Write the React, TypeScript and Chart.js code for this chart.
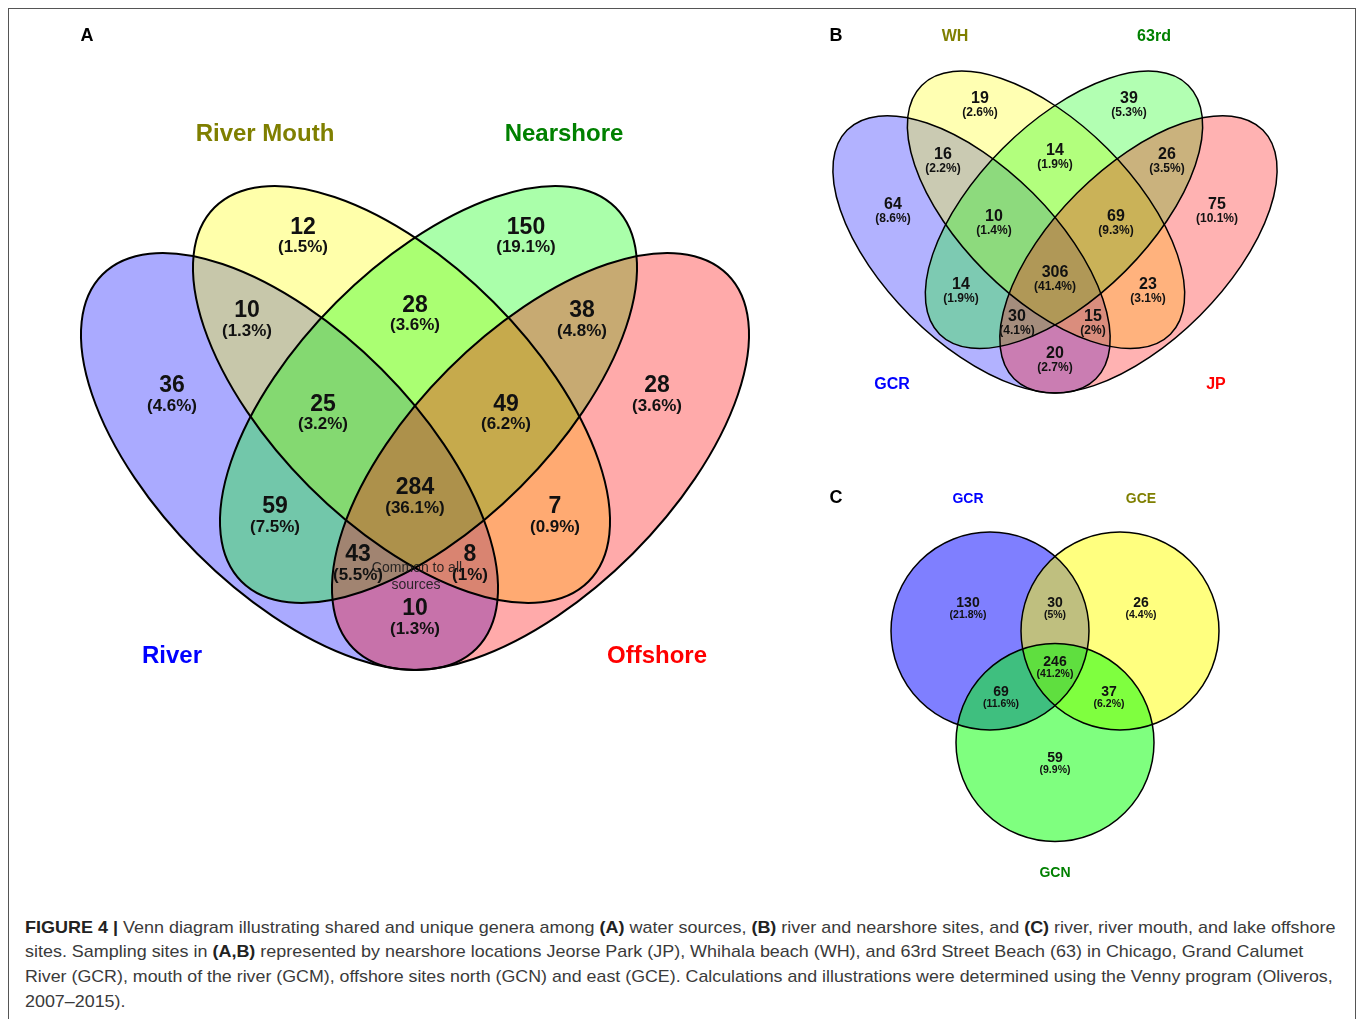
import React, { useEffect, useLayoutEffect, useRef } from "react";
import { Chart, registerables } from "chart.js";

Chart.register(...registerables);

// ---------------- DATA ----------------
// Panel A: water sources
const SETS_A = ["River", "River Mouth", "Nearshore", "Offshore"];
const COUNTS_A = [12, 150, 10, 28, 38, 36, 25, 49, 28, 59, 284, 7, 43, 8, 10];
const PCTS_A = [1.5, 19.1, 1.3, 3.6, 4.8, 4.6, 3.2, 6.2, 3.6, 7.5, 36.1, 0.9, 5.5, 1, 1.3];

// Panel B: river and nearshore sites
const SETS_B = ["GCR", "WH", "63rd", "JP"];
const COUNTS_B = [19, 39, 16, 14, 26, 64, 10, 69, 75, 14, 306, 23, 30, 15, 20];
const PCTS_B = [2.6, 5.3, 2.2, 1.9, 3.5, 8.6, 1.4, 9.3, 10.1, 1.9, 41.4, 3.1, 4.1, 2, 2.7];

// Panel C: river, river mouth, lake offshore
const SETS_C = ["GCR", "GCE", "GCN"];
const COUNTS_C = [130, 30, 26, 246, 69, 37, 59];
const PCTS_C = [21.8, 5, 4.4, 41.2, 11.6, 6.2, 9.9];

const PANEL_LETTERS = ["A", "B", "C"];
const COMMON_NOTE = ["Common to all", "sources"];

// ---------------- LAYOUT (page pixel coordinates) ----------------
const FIG = { left: 9, top: 9, width: 1346, height: 896 };
const FONT = '"Liberation Sans", Arial, Helvetica, sans-serif';
const TEXT_DY = 1.5;

// 4-set ellipse template relative to the bottom meeting point
const TEMPLATE4 = [
  { dx: -125.5, dy: -208.5, rot: Math.PI / 4 },
  { dx: -13.5, dy: -275.5, rot: Math.PI / 4 },
  { dx: 13.5, dy: -275.5, rot: -Math.PI / 4 },
  { dx: 125.5, dy: -208.5, rot: -Math.PI / 4 },
];
const TEMPLATE_RX = 264.5;
const TEMPLATE_RY = 130.4;
const RGB4 = ["0,0,255", "255,255,0", "0,255,0", "255,0,0"];
const RGB3 = ["0,0,255", "255,255,0", "0,255,0"];

const PANEL_A_GEOM = { ox: 415, oy: 670, scale: 1, alpha: 1 / 3, lineWidth: 2 };
const PANEL_B_GEOM = { ox: 1055, oy: 393, scale: 0.665, alpha: 0.3, lineWidth: 1.5 };
const CIRCLES_C = [
  { cx: 990, cy: 631, r: 99 },
  { cx: 1120, cy: 631, r: 99 },
  { cx: 1055, cy: 742.5, r: 99 },
];
const PANEL_C_STYLE = { alpha: 0.5, lineWidth: 1.5 };

const POS_A = [
  [303, 236], [526, 236], [247, 319.5], [415, 314], [582, 319.5],
  [172, 394.5], [323, 413], [506, 413], [657, 394.5],
  [275, 515.5], [415, 496.5], [555, 515.5],
  [358, 563.5], [470, 563.5], [415, 617.5],
];
const POS_B = [
  [980, 104], [1129, 104], [943, 160], [1055, 156], [1167, 160],
  [893, 210], [994, 222], [1116, 222], [1217, 210],
  [961, 290.5], [1055, 278], [1148, 290.5],
  [1017, 322.5], [1093, 322.5], [1055, 359.5],
];
const POS_C = [
  [968, 608], [1055, 608], [1141, 608], [1055, 666.5],
  [1001, 696.5], [1109, 696.5], [1055, 763],
];

const NAME_POS_A = [[172, 655], [265, 133], [564, 133], [657, 655]];
const NAME_POS_B = [[892, 383], [955, 35], [1154, 35], [1216, 383]];
const NAME_POS_C = [[968, 498], [1141, 498], [1055, 872]];
const NAME_COLORS_4 = ["#0000ff", "#7f7f00", "#008000", "#ff0000"];
const NAME_COLORS_3 = ["#0000ff", "#7f7f00", "#008000"];
const LETTER_POS = [[87, 35], [836, 35], [836, 497]];
const NOTE_POS = [[417, 567], [416, 584]];

// ---------------- CAPTION ----------------
const CAPTION: [string, boolean][][] = [
  [
    ["FIGURE 4 |", true],
    [" Venn diagram illustrating shared and unique genera among ", false],
    ["(A)", true],
    [" water sources, ", false],
    ["(B)", true],
    [" river and nearshore sites, and ", false],
    ["(C)", true],
    [" river, river mouth, and lake offshore", false],
  ],
  [
    ["sites. Sampling sites in ", false],
    ["(A,B)", true],
    [" represented by nearshore locations Jeorse Park (JP), Whihala beach (WH), and 63rd Street Beach (63) in Chicago, Grand Calumet", false],
  ],
  [["River (GCR), mouth of the river (GCM), offshore sites north (GCN) and east (GCE). Calculations and illustrations were determined using the Venny program (Oliveros,", false]],
  [["2007–2015).", false]],
];
const CAPTION_WIDTHS = [1310, 1278, 1308, 100];

// ---------------- PLUGIN ----------------
const toXY = (arr: number[][]) => arr.map(([x, y]) => ({ x, y }));

const vennPlugin = {
  id: "venn",
  beforeDatasetsDraw(chart: any) {
    const { ctx, scales } = chart;
    const xs = scales.x;
    const ys = scales.y;
    const len = (d: number) => Math.abs(xs.getPixelForValue(FIG.left + d) - xs.getPixelForValue(FIG.left));
    ctx.save();
    const drawFour = (g: any) => {
      const shapes = TEMPLATE4.map((t) => ({
        x: xs.getPixelForValue(g.ox + t.dx * g.scale),
        y: ys.getPixelForValue(g.oy + t.dy * g.scale),
        rx: len(TEMPLATE_RX * g.scale),
        ry: len(TEMPLATE_RY * g.scale),
        rot: t.rot,
      }));
      shapes.forEach((s, i) => {
        ctx.beginPath();
        ctx.ellipse(s.x, s.y, s.rx, s.ry, s.rot, 0, Math.PI * 2);
        ctx.fillStyle = `rgba(${RGB4[i]},${g.alpha})`;
        ctx.fill();
      });
      ctx.strokeStyle = "#000";
      ctx.lineWidth = g.lineWidth;
      shapes.forEach((s) => {
        ctx.beginPath();
        ctx.ellipse(s.x, s.y, s.rx, s.ry, s.rot, 0, Math.PI * 2);
        ctx.stroke();
      });
    };
    drawFour(PANEL_A_GEOM);
    drawFour(PANEL_B_GEOM);
    const circ = CIRCLES_C.map((c) => ({
      x: xs.getPixelForValue(c.cx),
      y: ys.getPixelForValue(c.cy),
      r: len(c.r),
    }));
    circ.forEach((c, i) => {
      ctx.beginPath();
      ctx.arc(c.x, c.y, c.r, 0, Math.PI * 2);
      ctx.fillStyle = `rgba(${RGB3[i]},${PANEL_C_STYLE.alpha})`;
      ctx.fill();
    });
    ctx.strokeStyle = "#000";
    ctx.lineWidth = PANEL_C_STYLE.lineWidth;
    circ.forEach((c) => {
      ctx.beginPath();
      ctx.arc(c.x, c.y, c.r, 0, Math.PI * 2);
      ctx.stroke();
    });
    ctx.restore();
  },
  afterDatasetsDraw(chart: any) {
    const ctx = chart.ctx;
    ctx.save();
    ctx.textAlign = "center";
    ctx.textBaseline = "middle";
    chart.data.datasets.forEach((ds: any, i: number) => {
      const meta = chart.getDatasetMeta(i);
      meta.data.forEach((pt: any, j: number) => {
        const x = pt.x;
        const y = pt.y + TEXT_DY;
        if (ds.kind === "region") {
          ctx.fillStyle = "#111";
          ctx.font = `bold ${ds.countSize}px ${FONT}`;
          ctx.fillText(String(ds.counts[j]), x, y - ds.gap);
          ctx.font = `bold ${ds.pctSize}px ${FONT}`;
          ctx.fillText(`(${ds.pcts[j]}%)`, x, y + ds.gap);
        } else if (ds.kind === "name") {
          ctx.fillStyle = ds.colors[j];
          ctx.font = `bold ${ds.size}px ${FONT}`;
          ctx.fillText(ds.names[j], x, y);
        } else if (ds.kind === "note") {
          ctx.fillStyle = "rgba(25,25,25,0.9)";
          ctx.font = `${ds.size}px ${FONT}`;
          ctx.fillText(ds.names[j], x, y);
        }
      });
    });
    ctx.restore();
  },
};

function Caption() {
  const refs = useRef<(HTMLSpanElement | null)[]>([]);
  useLayoutEffect(() => {
    refs.current.forEach((el, i) => {
      if (!el) return;
      el.style.transform = "none";
      const w = el.offsetWidth;
      if (w > 0) el.style.transform = `scaleX(${CAPTION_WIDTHS[i] / w})`;
    });
  }, []);
  return (
    <div
      style={{
        position: "absolute",
        left: 16,
        top: 906.5,
        fontFamily: FONT,
        fontSize: 17,
        lineHeight: "24.7px",
        color: "#3a3a3a",
      }}
    >
      {CAPTION.map((line, i) => (
        <div key={i} style={{ whiteSpace: "pre", height: 24.7 }}>
          <span
            ref={(el) => {
              refs.current[i] = el;
            }}
            style={{ display: "inline-block", transformOrigin: "0 0", whiteSpace: "pre" }}
          >
            {line.map(([t, b], k) => (
              <span key={k} style={{ fontWeight: b ? "bold" : "normal", color: b ? "#222" : undefined }}>
                {t}
              </span>
            ))}
          </span>
        </div>
      ))}
    </div>
  );
}

export default function App() {
  const canvasRef = useRef<HTMLCanvasElement>(null);

  useLayoutEffect(() => {
    document.documentElement.style.overflow = "hidden";
    document.body.style.margin = "0";
  }, []);

  useEffect(() => {
    if (!canvasRef.current) return;
    const datasets: any[] = [
      { kind: "region", data: toXY(POS_A), counts: COUNTS_A, pcts: PCTS_A, countSize: 23, pctSize: 17, gap: 10.25 },
      { kind: "region", data: toXY(POS_B), counts: COUNTS_B, pcts: PCTS_B, countSize: 16, pctSize: 12, gap: 7 },
      { kind: "region", data: toXY(POS_C), counts: COUNTS_C, pcts: PCTS_C, countSize: 14, pctSize: 10.5, gap: 6 },
      { kind: "name", data: toXY(NAME_POS_A), names: SETS_A, colors: NAME_COLORS_4, size: 24 },
      { kind: "name", data: toXY(NAME_POS_B), names: SETS_B, colors: NAME_COLORS_4, size: 16 },
      { kind: "name", data: toXY(NAME_POS_C), names: SETS_C, colors: NAME_COLORS_3, size: 14 },
      { kind: "name", data: toXY(LETTER_POS), names: PANEL_LETTERS, colors: ["#000", "#000", "#000"], size: 18 },
      { kind: "note", data: toXY(NOTE_POS), names: COMMON_NOTE, size: 14 },
    ].map((d) => ({ ...d, pointRadius: 0, pointHoverRadius: 0, showLine: false, clip: false }));

    const chart = new Chart(canvasRef.current, {
      type: "scatter",
      data: { datasets },
      options: {
        animation: false,
        responsive: false,
        maintainAspectRatio: false,
        events: [],
        layout: { padding: 0 },
        plugins: { legend: { display: false }, tooltip: { enabled: false }, title: { display: false } },
        scales: {
          x: { type: "linear", min: FIG.left, max: FIG.left + FIG.width, display: false },
          y: { type: "linear", min: FIG.top, max: FIG.top + FIG.height, reverse: true, display: false },
        },
      },
      plugins: [vennPlugin],
    } as any);
    return () => chart.destroy();
  }, []);

  return (
    <div style={{ width: 1358, height: 1019, padding: "8px 0 0 8px", boxSizing: "border-box", background: "#fff" }}>
      <div
        style={{
          position: "relative",
          width: 1348,
          height: 1011,
          boxSizing: "border-box",
          borderTop: "1px solid #555",
          borderLeft: "1px solid #555",
          borderRight: "1px solid #555",
          background: "#fff",
        }}
      >
        <canvas
          ref={canvasRef}
          width={FIG.width}
          height={FIG.height}
          style={{ position: "absolute", left: 0, top: 0, width: FIG.width, height: FIG.height }}
        />
        <Caption />
      </div>
    </div>
  );
}
